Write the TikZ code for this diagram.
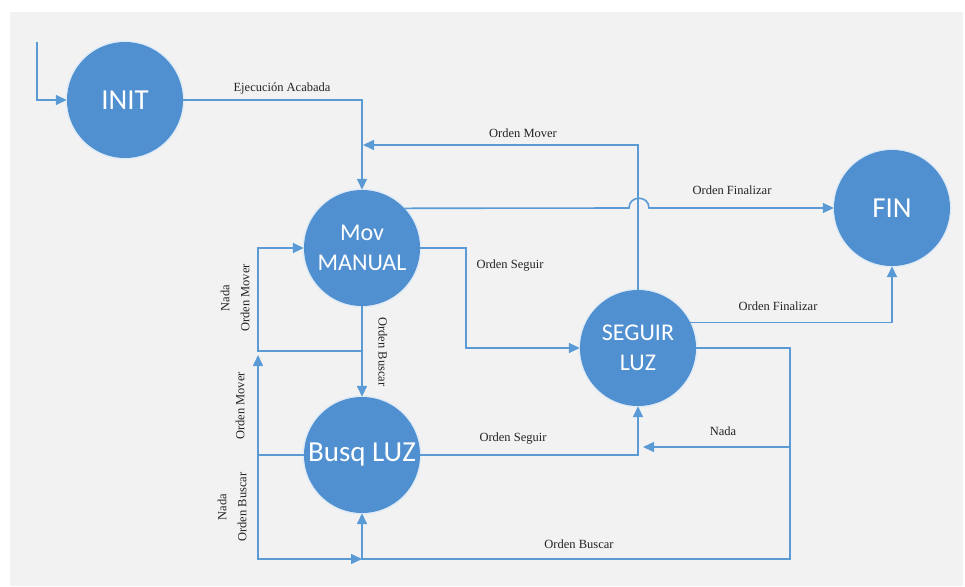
\documentclass[tikz,border=0pt]{standalone}
\usepackage{fontspec}
\setmainfont{Liberation Serif}
\newfontfamily\nodefont{Carlito}
\usetikzlibrary{arrows.meta}
\definecolor{circ}{RGB}{80,144,208}
\definecolor{wire}{RGB}{91,155,213}
\definecolor{halo}{RGB}{224,235,246}
\definecolor{bg}{RGB}{242,242,242}
\definecolor{txt}{RGB}{35,35,35}
\begin{document}
\begin{tikzpicture}[x=1pt,y=-1pt,
  state/.style={circle, fill=circ, minimum size=116pt, inner sep=0pt, text=white,
    align=center, preaction={draw=halo, line width=3pt}},
  big/.style={font=\nodefont\fontsize{29}{34}\selectfont},
  mid/.style={font=\nodefont\fontsize{24}{30}\selectfont},
  arr/.style={draw=wire, line width=1.6pt, -{Triangle[length=11pt,width=10pt]}},
  lbl/.style={text=txt, font=\fontsize{12.5}{20}\selectfont, inner sep=0pt, align=center},
]
\fill[white] (0,0) rectangle (965,586);
\fill[bg] (10,12) rectangle (963,586);
\useasboundingbox (0,0) rectangle (965,586);

% states
\node[state,big] (INIT) at (125,100) {INIT};
\node[state,mid] (MOV) at (362,248) {Mov\\MANUAL};
\node[state,big] (FIN) at (892,208) {FIN};
\node[state,mid] (SEG) at (638,348) {SEGUIR\\LUZ};
\node[state,big] (BUSQ) at (362,455) {Busq LUZ};

% helper coordinates
\coordinate (start) at (37,42);
\coordinate (om) at (363,145);
\coordinate (hopa) at (629,208);
\coordinate (hopb) at (649,208);
\coordinate (os1) at (466,248);
\coordinate (r1) at (790,348);
\coordinate (r2) at (790,559);
\coordinate (rn) at (790,447);
\coordinate (nj) at (643,447);
\coordinate (mj) at (362,351);
\coordinate (lj) at (258,351);
\coordinate (lu) at (258,355);
\coordinate (lb1) at (258,455);
\coordinate (lb2) at (258,559);
\coordinate (j2) at (362,559);

% connectors
\draw[arr] (start) |- (INIT);
\draw[arr] (INIT) -| (MOV);
\draw[arr] (SEG) |- (om);
\draw[arr] (MOV.43.4) -- (hopa) .. controls (629,195) and (649,195) .. (hopb) -- (FIN);
\draw[arr] (MOV) -- (os1) |- (SEG);
\draw[arr] (SEG.26.6) -| (FIN);
\draw[arr] (SEG) -- (r1) -- (r2) -| (BUSQ);
\draw[arr] (rn) -- (nj);
\draw[arr] (BUSQ) -| (SEG);
\draw[arr] (MOV) -- (BUSQ);
\draw[arr] (mj) -- (lj) |- (MOV);
\draw[arr] (BUSQ) -| (lu);
\draw[arr] (lb1) -- (lb2) -- (j2);

% labels
\node[lbl] (l1) at (282,88) {Ejecución Acabada};
\node[lbl] (l2) at (523,133) {Orden Mover};
\node[lbl] (l3) at (732,190) {Orden Finalizar};
\node[lbl] (l4) at (510,266) {Orden Seguir};
\node[lbl] (l5) at (778,306) {Orden Finalizar};
\node[lbl, rotate=-90] (l6) at (383,352) {Orden Buscar};
\node[lbl, rotate=90] (l7) at (235,298) {Nada\\Orden Mover};
\node[lbl, rotate=90] (l8) at (240,406) {Orden Mover};
\node[lbl] (l9) at (513,439) {Orden Seguir};
\node[lbl] (l10) at (723,431) {Nada};
\node[lbl, rotate=90] (l11) at (232,507) {Nada\\Orden Buscar};
\node[lbl] (l12) at (579,544) {Orden Buscar};
\end{tikzpicture}
\end{document}
